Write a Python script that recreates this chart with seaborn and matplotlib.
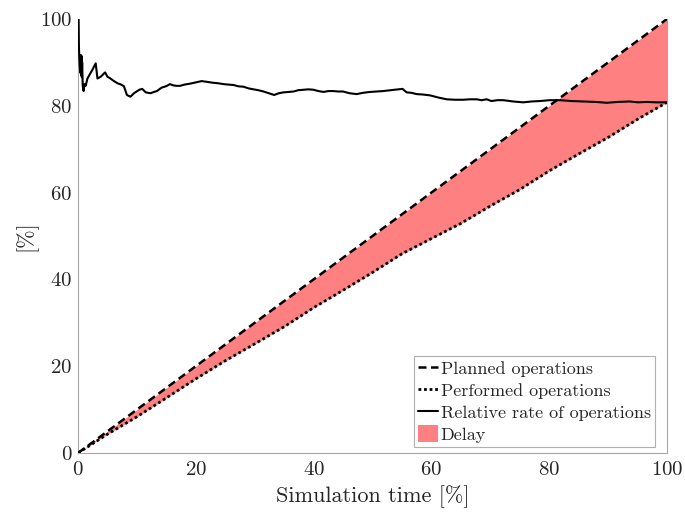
import matplotlib
matplotlib.use("Agg")
import matplotlib.pyplot as plt
import seaborn as sns
import pandas as pd
from matplotlib.patches import Patch
from matplotlib.lines import Line2D

# Relative rate of operations [%] over simulation time [%]
rate_time = [0, 0.1, 0.15, 0.2, 0.3, 0.4, 0.5, 0.55, 0.6, 0.65, 0.7, 0.8, 0.95,
             1.1, 1.3, 1.6, 2.1, 2.4, 3.0, 3.3, 3.85, 4.6, 5.0, 5.5, 6.1, 6.7,
             7.3, 7.8, 8.3, 8.9, 9.5, 10.4, 10.9, 11.5, 12.3, 12.9, 13.4, 14.2,
             14.7, 15.1, 15.6, 16.2, 16.8, 17.3, 18.1, 19.0, 20.0, 21.0, 22.0,
             23.0, 23.8, 24.7, 25.5, 26.4, 27.2, 28.1, 29.0, 29.8, 30.6, 31.5,
             32.4, 33.3, 34.1, 34.9, 35.8, 36.6, 37.4, 38.3, 39.1, 40.0, 40.8,
             41.7, 42.5, 43.3, 44.2, 45.0, 46.1, 47.3, 48.4, 49.6, 50.7, 51.8,
             53.1, 54.4, 55.1, 55.8, 56.6, 57.5, 58.6, 59.8, 61.2, 62.6, 64.0,
             65.4, 66.5, 67.7, 68.5, 69.4, 70.2, 71.2, 72.2, 73.9, 75.6, 77.0,
             78.4, 80.1, 81.8, 83.8, 85.8, 87.8, 89.8, 91.7, 93.7, 95.1, 96.6,
             98.1, 100.0]
rate_value = [100, 100, 94, 91.7, 89, 87.6, 91.7, 87, 91.5, 86.6, 90, 84.5, 83.4,
              85, 84.6, 86.3, 87.5, 88.2, 89.8, 86.3, 86.7, 87.7, 86.7, 86.3, 85.7, 85.2,
              84.9, 84.5, 82.5, 82.1, 82.9, 83.7, 83.9, 83.1, 82.9, 83.2, 83.4, 84.2,
              84.4, 84.6, 85.0, 84.7, 84.6, 84.6, 84.9, 85.1, 85.4, 85.7, 85.5,
              85.3, 85.2, 85.0, 84.9, 84.8, 84.5, 84.4, 84.0, 83.8, 83.6, 83.3,
              82.9, 82.5, 82.9, 83.1, 83.2, 83.3, 83.6, 83.7, 83.8, 83.7, 83.4,
              83.2, 83.4, 83.4, 83.3, 83.3, 82.9, 82.7, 83.0, 83.2, 83.3, 83.4,
              83.6, 83.8, 83.9, 83.1, 83.0, 82.7, 82.6, 82.4, 81.9, 81.5, 81.4,
              81.4, 81.5, 81.5, 81.3, 81.5, 81.1, 81.3, 81.3, 81.0, 80.8, 81.0,
              81.1, 81.3, 81.3, 81.1, 81.0, 80.9, 80.7, 80.9, 81.0, 80.8, 80.9,
              80.8, 80.8]

# Planned and performed operations [%]
ops_time = [0, 5, 10, 15, 20, 25, 30, 35, 40, 45, 50,
            55, 60, 65, 70, 75, 80, 85, 90, 95, 100]
planned = [0, 5, 10, 15, 20, 25, 30, 35, 40, 45, 50,
           55, 60, 65, 70, 75, 80, 85, 90, 95, 100]
performed = [0, 4.33, 8.34, 12.69, 17.08, 21.25, 25.14, 29.09, 33.48, 37.49, 41.6,
             45.9, 49.4, 52.9, 56.9, 60.7, 65.0, 68.9, 72.7, 76.9, 80.8]

labels = ["Planned operations", "Performed operations",
          "Relative rate of operations", "Delay"]

sns.set_style("white")
plt.rcParams["font.family"] = ["cmr10"]
plt.rcParams["axes.formatter.use_mathtext"] = True
plt.rcParams["mathtext.fontset"] = "cm"

fig = plt.figure(figsize=(6.85, 5.17), dpi=100)
ax = fig.add_axes([0.1139, 0.1238, 0.8598, 0.8394])

ops = pd.DataFrame({"t": ops_time, "planned": planned, "performed": performed})
rate = pd.DataFrame({"t": rate_time, "rate": rate_value})

fill_color = "#ff8080"
dash_style = (0, (3.2, 1.8))
dot_style = (0, (1, 1))
ax.fill_between(ops["t"], ops["performed"], ops["planned"],
                color=fill_color, linewidth=0, zorder=3)

sns.lineplot(data=ops, x="t", y="planned", ax=ax, color="black",
             linewidth=1.8, linestyle=dash_style, zorder=4)
sns.lineplot(data=ops, x="t", y="performed", ax=ax, color="black",
             linewidth=2.0, linestyle=dot_style, zorder=4)
sns.lineplot(data=rate, x="t", y="rate", ax=ax, color="black",
             linewidth=1.5, zorder=4)

ax.set_xlim(0, 100)
ax.set_ylim(0, 100)
ax.set_xticks([0, 20, 40, 60, 80, 100])
ax.set_yticks([0, 20, 40, 60, 80, 100])
ax.set_xlabel("Simulation time [%]", fontsize=16, color="#262626", labelpad=4)
ax.set_ylabel("[%]", fontsize=16, color="#262626", labelpad=2)

spine_color = "#a6a6a6"
ax.spines["top"].set_visible(False)
for side in ("left", "bottom", "right"):
    ax.spines[side].set_color(spine_color)
    ax.spines[side].set_linewidth(0.8)
ax.tick_params(axis="both", direction="inout", length=4, width=0.8,
               color=spine_color, labelsize=15, labelcolor="#262626")
ax.tick_params(axis="y", pad=2)
ax.tick_params(axis="x", pad=4)

handles = [
    Line2D([], [], color="black", linewidth=1.8, linestyle=dash_style),
    Line2D([], [], color="black", linewidth=2.0, linestyle=dot_style),
    Line2D([], [], color="black", linewidth=1.5),
    Patch(facecolor=fill_color, edgecolor="none"),
]
leg = ax.legend(handles, labels, loc="lower right", bbox_to_anchor=(0.99, 0.0),
                fontsize=13, frameon=True, fancybox=False, framealpha=1,
                edgecolor="#b0b0b0", handlelength=1.1, handleheight=1.1,
                handletextpad=0.15, borderpad=0.22, labelspacing=0.22,
                borderaxespad=0.35)
leg.get_frame().set_linewidth(0.8)

fig.savefig("out.png", dpi=100)
